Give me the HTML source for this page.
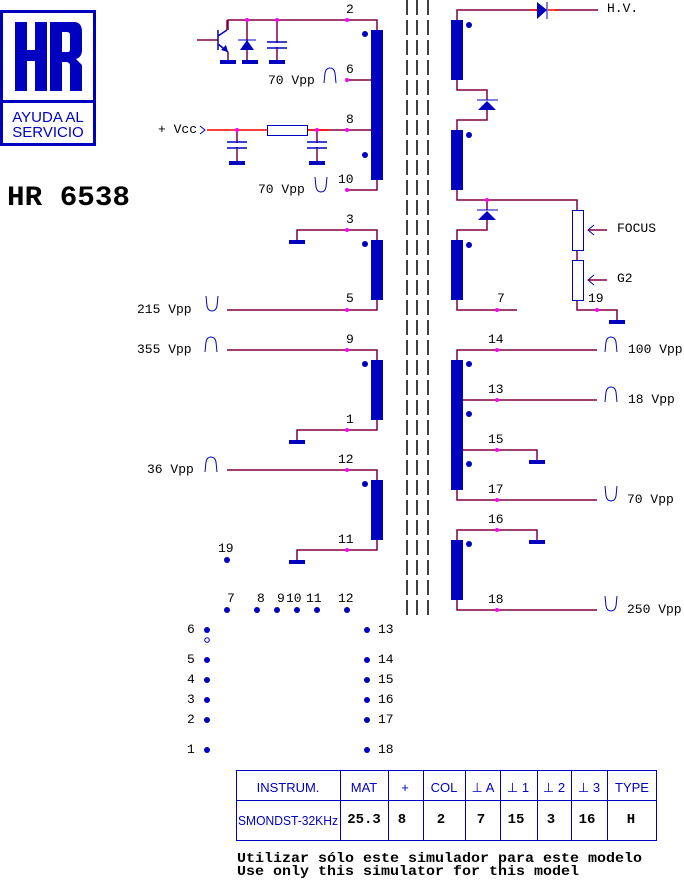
<!DOCTYPE html>
<html><head><meta charset="utf-8"><style>
body{margin:0;background:#fff}
svg{display:block}
.m{font-family:"Liberation Mono",monospace;font-size:13px;fill:#000}
.s{font-family:"Liberation Sans",sans-serif;fill:#0000c0}
</style></head><body>
<svg width="684" height="881" viewBox="0 0 684 881" xmlns="http://www.w3.org/2000/svg">
<defs>
<g id="gnd"><rect x="-8" y="0" width="16" height="4" fill="#0000c0"/></g>
<g id="up"><path d="M0,15 L1,5 Q2,0 6,0 Q10,0 11,5 L12,15" fill="none" stroke="#0000c0"/></g>
<g id="dn"><path d="M0,0 L1,10 Q2,15 6,15 Q10,15 11,10 L12,0" fill="none" stroke="#0000c0"/></g>
</defs>
<!-- logo -->
<rect x="1.5" y="11.5" width="93" height="133" fill="none" stroke="#0000c0" stroke-width="3"/>
<line x1="1" y1="101.5" x2="95" y2="101.5" stroke="#0000c0" stroke-width="3"/>
<g fill="#0000c0">
<rect x="15" y="22" width="12" height="69"/><rect x="35" y="22" width="12" height="69"/><rect x="27" y="50" width="8" height="11"/>
<path d="M50,22 H74 Q82,22 82,32 V50 Q82,57 76,59 L82,65 V91 H70 V66 Q70,62 66,62 H62 V91 H50 Z M62,32 V52 H68 Q70,52 70,49 V35 Q70,32 67,32 Z" fill-rule="evenodd"/>
</g>
<text x="48" y="122" text-anchor="middle" class="s" font-size="15">AYUDA AL</text>
<text x="48" y="137" text-anchor="middle" class="s" font-size="15">SERVICIO</text>
<text x="7" y="205" font-family="Liberation Mono,monospace" font-weight="bold" font-size="28" textLength="123" lengthAdjust="spacingAndGlyphs">HR 6538</text>
<!-- core -->
<g stroke="#000" stroke-width="1.5" stroke-dasharray="15,5">
<line x1="407" y1="0" x2="407" y2="620"/><line x1="417" y1="0" x2="417" y2="620"/><line x1="428" y1="0" x2="428" y2="620"/>
</g>
<g fill="none" stroke="#800040" stroke-width="1.5">
<polyline points="228,30 228,20 377,20 377,30"/>
<polyline points="347,80 377,80"/>
<polyline points="267,130 377,130"/>
<polyline points="347,190 377,190 377,180"/>
<line x1="247" y1="20" x2="247" y2="60"/>
<line x1="277" y1="20" x2="277" y2="60"/>
<line x1="237" y1="130" x2="237" y2="162"/>
<line x1="317" y1="130" x2="317" y2="162"/>
<line x1="197" y1="40" x2="218" y2="40"/>
<polyline points="297,242 297,230 377,230 377,240"/>
<polyline points="227,310 377,310 377,300"/>
<polyline points="227,350 377,350 377,360"/>
<polyline points="297,440 297,430 377,430 377,420"/>
<polyline points="227,470 377,470 377,480"/>
<polyline points="297,560 297,550 377,550 377,540"/>
<polyline points="457,20 457,10 540,10"/>
<line x1="555" y1="10" x2="598" y2="10"/>
<polyline points="457,80 457,90 487,90 487,100"/>
<polyline points="487,110 487,120 457,120 457,130"/>
<polyline points="457,190 457,200 577,200 577,210"/>
<polyline points="487,200 487,210"/>
<polyline points="487,220 487,230 457,230 457,240"/>
<line x1="577" y1="250" x2="577" y2="260"/>
<polyline points="577,300 577,310 617,310 617,320"/>
<polyline points="457,300 457,310 517,310"/>
<polyline points="457,360 457,350 597,350"/>
<line x1="457" y1="400" x2="597" y2="400"/>
<polyline points="457,450 537,450 537,460"/>
<polyline points="457,490 457,500 597,500"/>
<polyline points="457,540 457,530 537,530 537,540"/>
<polyline points="457,600 457,610 597,610"/>
</g>
<g stroke="#ff0000" stroke-width="1.5">
<line x1="207" y1="130" x2="267" y2="130"/>
<line x1="307" y1="130" x2="330" y2="130"/>
<line x1="530" y1="10" x2="540" y2="10"/><line x1="548" y1="10" x2="558" y2="10"/>
</g>
<g fill="#0000c0">
<rect x="371" y="30" width="12" height="150"/>
<rect x="371" y="240" width="12" height="60"/>
<rect x="371" y="360" width="12" height="60"/>
<rect x="371" y="480" width="12" height="60"/>
<rect x="451" y="20" width="12" height="60"/>
<rect x="451" y="130" width="12" height="60"/>
<rect x="451" y="240" width="12" height="60"/>
<rect x="451" y="360" width="12" height="130"/>
<rect x="451" y="540" width="12" height="60"/>
<circle cx="365" cy="34" r="3"/><circle cx="365" cy="155" r="3"/>
<circle cx="365" cy="244" r="3"/><circle cx="365" cy="364" r="3"/><circle cx="365" cy="484" r="3"/>
<circle cx="469" cy="25" r="3"/><circle cx="469" cy="135" r="3"/><circle cx="469" cy="245" r="3"/>
<circle cx="469" cy="364" r="3"/><circle cx="469" cy="414" r="3"/><circle cx="469" cy="464" r="3"/><circle cx="469" cy="544" r="3"/>
</g>
<use href="#gnd" x="228" y="60"/><use href="#gnd" x="250" y="60"/><use href="#gnd" x="277" y="60"/>
<use href="#gnd" x="237" y="161"/><use href="#gnd" x="317" y="161"/>
<use href="#gnd" x="297" y="240"/><use href="#gnd" x="297" y="440"/><use href="#gnd" x="297" y="560"/>
<use href="#gnd" x="617" y="320"/><use href="#gnd" x="537" y="460"/><use href="#gnd" x="537" y="540"/>
<g stroke="#0000c0" stroke-width="1.5" fill="none">
<line x1="218" y1="30" x2="218" y2="50"/>
<line x1="218" y1="36" x2="227" y2="30"/><line x1="227" y1="30" x2="227" y2="20" stroke="#800040"/>
<line x1="218" y1="44" x2="228" y2="52"/><line x1="228" y1="52" x2="228" y2="60" stroke="#800040"/>
</g>
<polygon points="228,52 221,50 226,45" fill="#0000c0"/>
<polygon points="240,50 254,50 247,40" fill="#0000c0"/><line x1="238" y1="40" x2="256" y2="40" stroke="#0000c0"/>
<g stroke="#0000c0" stroke-width="1.5">
<line x1="267" y1="42" x2="287" y2="42"/><line x1="267" y1="48" x2="287" y2="48"/>
<line x1="227" y1="142" x2="247" y2="142"/><line x1="227" y1="148" x2="247" y2="148"/>
<line x1="307" y1="142" x2="327" y2="142"/><line x1="307" y1="148" x2="327" y2="148"/>
</g>
<line x1="277" y1="43" x2="277" y2="47" stroke="#fff" stroke-width="2"/>
<line x1="237" y1="143" x2="237" y2="147" stroke="#fff" stroke-width="2"/>
<line x1="317" y1="143" x2="317" y2="147" stroke="#fff" stroke-width="2"/>
<rect x="267.5" y="125.5" width="40" height="10" fill="#fff" stroke="#0000c0"/>
<polyline points="200,126 205,130 200,134" fill="none" stroke="#0000c0"/>
<polygon points="537,2 547,10 537,19" fill="#0000c0"/><line x1="547" y1="2" x2="547" y2="19" stroke="#0000c0"/>
<polygon points="478,110 496,110 487,101" fill="#0000c0"/><line x1="477" y1="100" x2="498" y2="100" stroke="#0000c0"/>
<polygon points="478,220 496,220 487,211" fill="#0000c0"/><line x1="477" y1="210" x2="498" y2="210" stroke="#0000c0"/>
<rect x="572.5" y="210.5" width="11" height="40" fill="#fff" stroke="#0000c0"/>
<rect x="572.5" y="260.5" width="11" height="40" fill="#fff" stroke="#0000c0"/>
<g stroke="#0000c0" fill="none"><polyline points="594,225 588,230 594,235"/><polyline points="594,275 588,280 594,285"/></g>
<g stroke="#800040" stroke-width="1.5"><line x1="588" y1="230" x2="607" y2="230"/><line x1="588" y1="280" x2="607" y2="280"/></g>
<g fill="#ff00ff">
<circle cx="247" cy="20" r="2"/><circle cx="277" cy="20" r="2"/><circle cx="347" cy="20" r="2"/>
<circle cx="347" cy="80" r="2"/><circle cx="237" cy="130" r="2"/><circle cx="317" cy="130" r="2"/><circle cx="347" cy="130" r="2"/><circle cx="347" cy="190" r="2"/>
<circle cx="347" cy="230" r="2"/><circle cx="347" cy="310" r="2"/><circle cx="347" cy="350" r="2"/><circle cx="347" cy="430" r="2"/><circle cx="347" cy="470" r="2"/><circle cx="347" cy="550" r="2"/>
<circle cx="487" cy="200" r="2"/><circle cx="497" cy="310" r="2"/><circle cx="597" cy="310" r="2"/>
<circle cx="497" cy="350" r="2"/><circle cx="497" cy="400" r="2"/><circle cx="497" cy="450" r="2"/><circle cx="497" cy="500" r="2"/><circle cx="497" cy="530" r="2"/><circle cx="497" cy="610" r="2"/>
</g>
<use href="#up" x="324" y="68"/><use href="#dn" x="315" y="177"/>
<use href="#dn" x="206" y="296"/><use href="#up" x="205" y="337"/><use href="#up" x="205" y="457"/>
<use href="#up" x="605" y="337"/><use href="#up" x="605" y="387"/><use href="#dn" x="605" y="486"/><use href="#dn" x="605" y="596"/>
<g class="m">
<text x="346" y="13">2</text><text x="346" y="73">6</text><text x="346" y="123">8</text><text x="338" y="183">10</text>
<text x="268" y="84">70 Vpp</text><text x="258" y="193">70 Vpp</text><text x="158" y="133">+ Vcc</text>
<text x="346" y="223">3</text><text x="346" y="302">5</text><text x="346" y="343">9</text><text x="346" y="423">1</text><text x="338" y="463">12</text><text x="338" y="543">11</text>
<text x="137" y="313">215 Vpp</text><text x="137" y="353">355 Vpp</text><text x="147" y="473">36 Vpp</text>
<text x="607" y="12">H.V.</text><text x="617" y="232">FOCUS</text><text x="617" y="282">G2</text>
<text x="497" y="302">7</text><text x="588" y="302">19</text>
<text x="488" y="343">14</text><text x="488" y="393">13</text><text x="488" y="443">15</text><text x="488" y="493">17</text><text x="488" y="523">16</text><text x="488" y="603">18</text>
<text x="628" y="353">100 Vpp</text><text x="628" y="403">18 Vpp</text><text x="627" y="503">70 Vpp</text><text x="627" y="613">250 Vpp</text>
<text x="218" y="552">19</text>
<text x="227" y="602">7</text><text x="257" y="602">8</text><text x="277" y="602">9</text><text x="286" y="602">10</text><text x="306" y="602">11</text><text x="338" y="602">12</text>
<text x="187" y="633">6</text><text x="187" y="663">5</text><text x="187" y="683">4</text><text x="187" y="703">3</text><text x="187" y="723">2</text><text x="187" y="753">1</text>
<text x="378" y="633">13</text><text x="378" y="663">14</text><text x="378" y="683">15</text><text x="378" y="703">16</text><text x="378" y="723">17</text><text x="378" y="753">18</text>
</g>
<g fill="#0000c0">
<circle cx="227" cy="560" r="3"/>
<circle cx="227" cy="610" r="3"/><circle cx="257" cy="610" r="3"/><circle cx="277" cy="610" r="3"/><circle cx="297" cy="610" r="3"/><circle cx="317" cy="610" r="3"/><circle cx="347" cy="610" r="3"/>
<circle cx="207" cy="630" r="3"/><circle cx="207" cy="660" r="3"/><circle cx="207" cy="680" r="3"/><circle cx="207" cy="700" r="3"/><circle cx="207" cy="720" r="3"/><circle cx="207" cy="750" r="3"/>
<circle cx="367" cy="630" r="3"/><circle cx="367" cy="660" r="3"/><circle cx="367" cy="680" r="3"/><circle cx="367" cy="700" r="3"/><circle cx="367" cy="720" r="3"/><circle cx="367" cy="750" r="3"/>
</g>
<circle cx="207" cy="640" r="2.3" fill="none" stroke="#0000c0"/>
<g stroke="#0000c0" stroke-width="1" fill="none">
<rect x="236.5" y="770.5" width="420" height="70"/>
<line x1="236" y1="800.5" x2="657" y2="800.5"/>
<line x1="340.5" y1="770" x2="340.5" y2="840"/><line x1="388.5" y1="770" x2="388.5" y2="840"/><line x1="423.5" y1="770" x2="423.5" y2="840"/><line x1="465.5" y1="770" x2="465.5" y2="840"/><line x1="500.5" y1="770" x2="500.5" y2="840"/><line x1="537.5" y1="770" x2="537.5" y2="840"/><line x1="571.5" y1="770" x2="571.5" y2="840"/><line x1="607.5" y1="770" x2="607.5" y2="840"/>
</g>
<g class="s" font-size="13" text-anchor="middle">
<text x="288" y="792">INSTRUM.</text><text x="364" y="792">MAT</text><text x="405" y="792">+</text><text x="444" y="792">COL</text><text x="483" y="792">⊥ A</text><text x="518" y="792">⊥ 1</text><text x="554" y="792">⊥ 2</text><text x="589" y="792">⊥ 3</text><text x="632" y="792">TYPE</text>
<text x="288" y="825" font-size="12.5" textLength="100" lengthAdjust="spacingAndGlyphs">SMONDST-32KHz</text>
</g>
<g font-family="Liberation Mono,monospace" font-weight="bold" font-size="14" text-anchor="middle">
<text x="364" y="823">25.3</text><text x="402" y="823">8</text><text x="441" y="823">2</text><text x="481" y="823">7</text><text x="516" y="823">15</text><text x="551" y="823">3</text><text x="587" y="823">16</text><text x="631" y="823">H</text>
</g>
<g font-family="Liberation Mono,monospace" font-weight="bold" font-size="14">
<text x="237" y="862" textLength="405" lengthAdjust="spacingAndGlyphs">Utilizar sólo este simulador para este modelo</text>
<text x="237" y="875" textLength="342" lengthAdjust="spacingAndGlyphs">Use only this simulator for this model</text>
</g>
</svg>
</body></html>
